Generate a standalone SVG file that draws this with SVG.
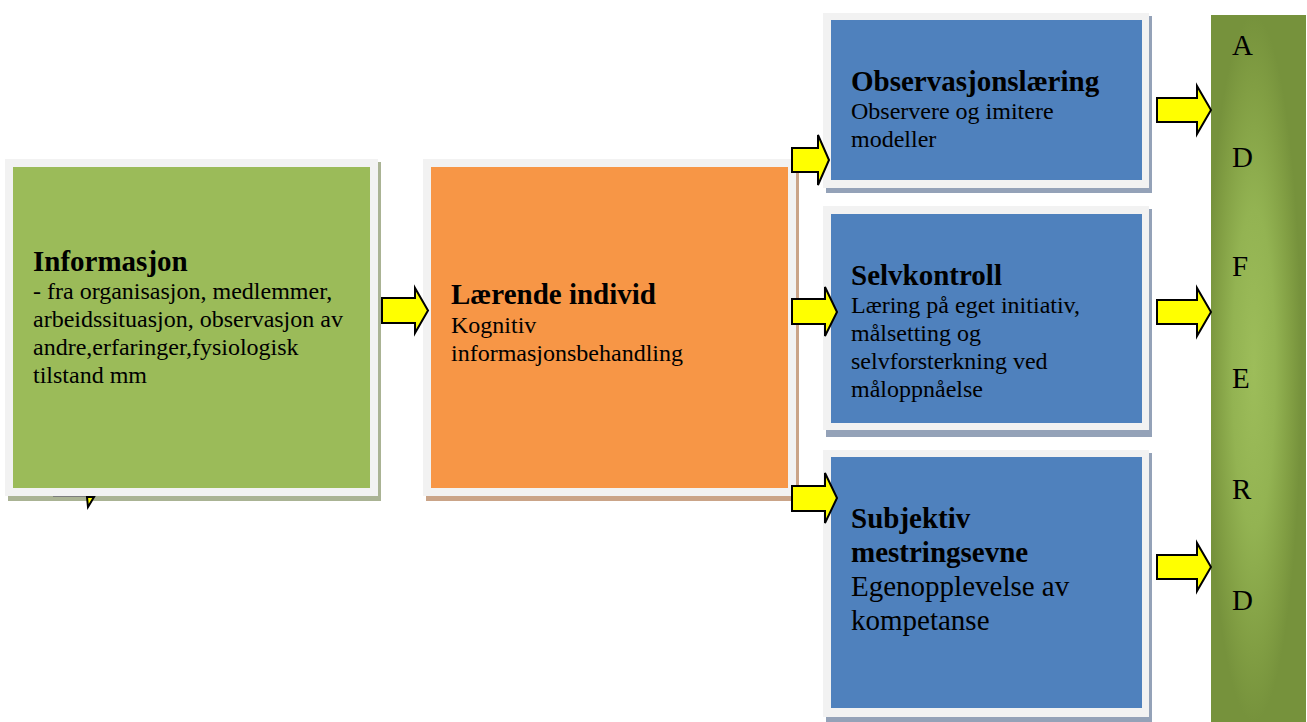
<svg xmlns="http://www.w3.org/2000/svg" width="1307" height="722" viewBox="0 0 1307 722">
<style>
  .frame { fill: #f2f2f2; }
  .t { font-family: "Liberation Serif", "Times New Roman", serif; fill: #000; font-size: 24px; }
  .tb { font-family: "Liberation Serif", "Times New Roman", serif; fill: #000; font-size: 29px; font-weight: bold; }
  .tl { font-family: "Liberation Serif", "Times New Roman", serif; fill: #000; font-size: 29px; }
  .arrow { fill: #ffff00; stroke: #000; stroke-width: 2; stroke-linejoin: miter; }
</style>
<defs>
  <radialGradient id="colGrad" cx="0.45" cy="0.5" r="0.5" gradientUnits="objectBoundingBox">
    <stop offset="0" stop-color="#9dbd5a"/>
    <stop offset="0.45" stop-color="#93b352"/>
    <stop offset="0.8" stop-color="#819e43"/>
    <stop offset="1" stop-color="#76923c"/>
  </radialGradient>
</defs>
<rect width="1307" height="722" fill="#ffffff"/>

<g id="node-informasjon">
  <rect x="8" y="162" width="373" height="339" fill="#aab394"/>
  <rect class="frame" x="5" y="159" width="373" height="337"/>
  <line x1="53" y1="496.5" x2="87" y2="496.5" stroke="#7d7d7d" stroke-width="1"/>
  <rect x="13" y="167" width="357" height="321" fill="#9bbb59"/>
  <text class="tb" x="33" y="271">Informasjon</text>
  <text class="t" x="33" y="299">- fra organisasjon, medlemmer,</text>
  <text class="t" x="33" y="327">arbeidssituasjon, observasjon av</text>
  <text class="t" x="33" y="355">andre,erfaringer,fysiologisk</text>
  <text class="t" x="33" y="383">tilstand mm</text>
</g>

<g id="node-laerende">
  <rect x="426" y="162" width="373" height="339" fill="#caa488"/>
  <rect class="frame" x="423" y="159" width="373" height="337"/>
  <rect x="431" y="167" width="357" height="321" fill="#f79646"/>
  <text class="tb" x="451" y="304">Lærende individ</text>
  <text class="t" x="451" y="333">Kognitiv</text>
  <text class="t" x="451" y="361">informasjonsbehandling</text>
</g>

<g id="node-observasjon">
  <rect x="826" y="16" width="326" height="177" fill="#94a2b8"/>
  <rect class="frame" x="823" y="13" width="326" height="175"/>
  <rect x="831" y="20" width="311" height="160" fill="#4f81bd"/>
  <text class="tb" x="851" y="91">Observasjonslæring</text>
  <text class="t" x="851" y="119">Observere og imitere</text>
  <text class="t" x="851" y="147">modeller</text>
</g>

<g id="node-selvkontroll">
  <rect x="826" y="209" width="326" height="228" fill="#94a2b8"/>
  <rect class="frame" x="823" y="206" width="326" height="224"/>
  <rect x="831" y="214" width="311" height="209" fill="#4f81bd"/>
  <text class="tb" x="851" y="285">Selvkontroll</text>
  <text class="t" x="851" y="313">Læring på eget initiativ,</text>
  <text class="t" x="851" y="341">målsetting og</text>
  <text class="t" x="851" y="369">selvforsterkning ved</text>
  <text class="t" x="851" y="397">måloppnåelse</text>
</g>

<g id="node-mestring">
  <rect x="826" y="453" width="326" height="269" fill="#94a2b8"/>
  <rect class="frame" x="823" y="450" width="326" height="267"/>
  <rect x="831" y="457" width="311" height="251" fill="#4f81bd"/>
  <text class="tb" x="851" y="528">Subjektiv</text>
  <text class="tb" x="851" y="562">mestringsevne</text>
  <text class="tl" x="851" y="596">Egenopplevelse av</text>
  <text class="tl" x="851" y="630">kompetanse</text>
</g>

<g id="node-adferd">
  <rect x="1211" y="15" width="95" height="707" fill="url(#colGrad)"/>
  <text class="tl" x="1232" y="55">A</text>
  <text class="tl" x="1232" y="167">D</text>
  <text class="tl" x="1232" y="276">F</text>
  <text class="tl" x="1232" y="388">E</text>
  <text class="tl" x="1232" y="499">R</text>
  <text class="tl" x="1232" y="610">D</text>
</g>

<g id="connectors">
  <polygon class="arrow" points="87,497 94,497 88,507"/>
  <polygon class="arrow" points="382,298 415,298 415,288 428,310.5 415,333 415,323 382,323"/>
  <polygon class="arrow" points="792,148 818,148 818,135 829,160 818,185 818,172 792,172"/>
  <polygon class="arrow" points="792,299 825,299 825,287 837,312 825,336 825,324 792,324"/>
  <polygon class="arrow" points="792,486 825,486 825,473 837,498 825,523 825,511 792,511"/>
  <polygon class="arrow" points="1157,98 1197,98 1197,86 1211,110 1197,134 1197,122 1157,122"/>
  <polygon class="arrow" points="1157,300 1197,300 1197,288 1211,312 1197,336 1197,324 1157,324"/>
  <polygon class="arrow" points="1157,555 1197,555 1197,543 1211,567 1197,591 1197,579 1157,579"/>
</g>
</svg>
